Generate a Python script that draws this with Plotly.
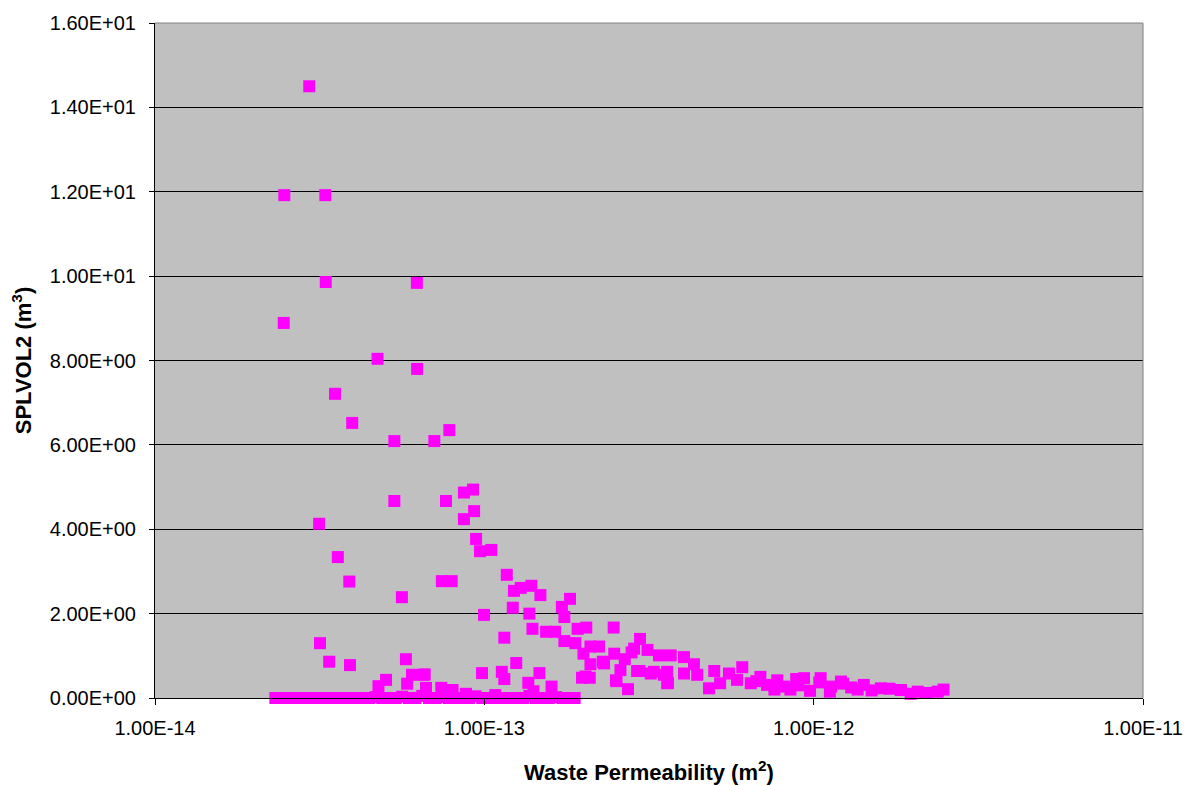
import plotly.graph_objects as go

# Waste permeability (m^2) and SPLVOL2 (m^3)
perm_main = [
    2.94e-14, 2.47e-14, 3.29e-14, 3.30e-14, 2.46e-14, 6.24e-14, 4.74e-14, 6.25e-14,
    3.52e-14, 3.97e-14, 5.33e-14, 7.05e-14, 7.83e-14, 5.33e-14, 7.65e-14, 8.67e-14,
    9.24e-14, 9.31e-14, 8.67e-14, 3.15e-14, 9.44e-14, 9.70e-14, 1.05e-13, 3.59e-14,
    3.89e-14, 7.43e-14, 7.96e-14, 5.62e-14, 9.98e-14, 1.17e-13, 1.15e-13, 3.17e-14,
    5.78e-14, 3.38e-14, 3.91e-14, 9.84e-14, 1.13e-13, 6.03e-14, 6.53e-14, 5.03e-14,
    5.83e-14, 4.77e-14, 6.65e-14, 7.40e-14, 8.01e-14, 8.80e-14, 1.08e-13, 1.23e-13,
    1.29e-13, 1.39e-13, 1.48e-13, 1.22e-13, 1.37e-13, 1.82e-13, 1.72e-13, 1.75e-13,
    1.40e-13, 1.54e-13, 1.64e-13, 1.92e-13, 2.04e-13, 2.47e-13, 1.75e-13, 1.89e-13,
    2.00e-13, 2.10e-13, 2.23e-13, 2.97e-13, 2.85e-13, 3.13e-13, 3.39e-13, 3.68e-13,
    2.48e-13, 2.29e-13, 2.10e-13, 2.67e-13, 2.80e-13, 2.59e-13, 2.96e-13, 3.27e-13,
    3.59e-13, 2.09e-13, 1.98e-13, 2.51e-13, 2.73e-13, 3.61e-13, 1.25e-13, 1.15e-13,
    1.47e-13, 1.36e-13, 1.60e-13, 6.59e-14, 1.41e-13, 4.04e-13, 4.33e-13, 4.99e-13,
    6.07e-13, 5.53e-13, 6.89e-13, 7.75e-13, 8.85e-13, 1.04e-12, 1.23e-12, 9.75e-13,
    4.81e-13, 3.59e-13, 2.52e-13, 2.03e-13, 3.20e-13, 3.51e-13, 2.91e-13, 2.31e-13,
    4.04e-13, 4.43e-13, 5.85e-13, 6.44e-13, 7.22e-13, 8.12e-13, 1.13e-12, 9.35e-13,
    1.05e-12, 1.21e-12, 1.42e-12, 1.60e-12, 1.84e-12, 2.07e-12, 2.38e-12, 2.48e-12,
    1.97e-12, 1.36e-12, 1.12e-12, 8.50e-13, 5.20e-13, 6.70e-13, 7.60e-13, 9.00e-13,
    1.30e-12, 1.50e-12, 1.70e-12, 2.20e-12,
]
splvol_main = [
    14.50, 11.92, 11.92, 9.86, 8.89, 9.84, 8.04, 7.80,
    7.21, 6.52, 6.09, 6.09, 6.35, 4.67, 4.67, 4.87,
    4.94, 4.43, 4.24, 4.13, 3.77, 3.48, 3.51, 3.34,
    2.76, 2.77, 2.77, 2.39, 1.97, 2.92, 1.43, 1.30,
    0.92, 0.86, 0.78, 0.59, 0.62, 0.55, 0.55, 0.43,
    0.34, 0.28, 0.24, 0.24, 0.19, 0.10, 0.07, 2.54,
    2.61, 2.66, 2.44, 2.14, 2.00, 2.35, 2.16, 1.92,
    1.64, 1.57, 1.57, 1.64, 1.67, 1.67, 1.35, 1.30,
    1.05, 1.22, 1.22, 1.40, 1.17, 1.14, 1.01, 1.01,
    1.05, 0.86, 0.80, 0.92, 1.08, 0.66, 0.64, 0.62,
    0.62, 0.48, 0.48, 0.42, 0.21, 0.36, 0.83, 0.45,
    0.59, 0.36, 0.27, 0.56, 0.16, 0.97, 0.80, 0.64,
    0.73, 0.58, 0.50, 0.42, 0.45, 0.37, 0.34, 0.17,
    0.23, 0.35, 0.40, 0.51, 0.58, 0.55, 0.64, 0.82,
    0.58, 0.55, 0.43, 0.35, 0.31, 0.27, 0.27, 0.47,
    0.47, 0.39, 0.31, 0.23, 0.19, 0.15, 0.15, 0.20,
    0.10, 0.20, 0.15, 0.20, 0.35, 0.40, 0.20, 0.30,
    0.25, 0.18, 0.22, 0.12,
]

# Realizations with (near) zero spill volume
perm_zero = [
    2.32e-14, 2.43e-14, 2.55e-14, 2.67e-14, 2.80e-14, 2.93e-14, 3.07e-14, 3.22e-14,
    3.37e-14, 3.53e-14, 3.70e-14, 3.88e-14, 4.06e-14, 4.26e-14, 4.46e-14, 4.67e-14,
    4.90e-14, 5.13e-14, 5.38e-14, 5.63e-14, 5.90e-14, 6.18e-14, 6.48e-14, 6.79e-14,
    7.11e-14, 7.45e-14, 7.81e-14, 8.18e-14, 8.57e-14, 8.98e-14, 9.41e-14, 9.86e-14,
    1.03e-13, 1.08e-13, 1.13e-13, 1.19e-13, 1.25e-13, 1.31e-13, 1.37e-13, 1.43e-13,
    1.50e-13, 1.57e-13, 1.65e-13, 1.73e-13, 1.81e-13, 1.88e-13,
]
splvol_zero = [
    0.00, 0.00, 0.00, 0.00, 0.00, 0.00, 0.00, 0.00,
    0.00, 0.00, 0.00, 0.00, 0.00, 0.00, 0.00, 0.02,
    0.00, 0.00, 0.00, 0.03, 0.00, 0.00, 0.05, 0.00,
    0.00, 0.02, 0.00, 0.00, 0.00, 0.00, 0.04, 0.00,
    0.00, 0.00, 0.00, 0.00, 0.00, 0.00, 0.05, 0.00,
    0.00, 0.00, 0.02, 0.00, 0.00, 0.00,
]

x_tickvals = [1e-14, 1e-13, 1e-12, 1e-11]
x_ticktext = ["1.00E-14", "1.00E-13", "1.00E-12", "1.00E-11"]
y_tickvals = [0, 2, 4, 6, 8, 10, 12, 14, 16]
y_ticktext = ["0.00E+00", "2.00E+00", "4.00E+00", "6.00E+00", "8.00E+00",
              "1.00E+01", "1.20E+01", "1.40E+01", "1.60E+01"]

FONT = "Liberation Sans, Arial, sans-serif"

fig = go.Figure()
fig.add_trace(go.Scatter(
    x=perm_zero + perm_main, y=splvol_zero + splvol_main,
    mode="markers", cliponaxis=False,
    marker=dict(symbol="square", size=12, color="#FF00FF", line=dict(width=0)),
    showlegend=False,
))

# the page body adds an 8px offset, so the figure is 8px smaller each way
fig.update_layout(
    width=1184, height=777,
    margin=dict(l=147, r=49, t=15, b=87),
    paper_bgcolor="white", plot_bgcolor="#C0C0C0",
    font=dict(family=FONT, size=20, color="black"),
    xaxis=dict(
        type="log", range=[-14, -11], automargin=False,
        tickvals=x_tickvals, ticktext=x_ticktext,
        showgrid=False, zeroline=False,
        showline=True, linecolor="black", linewidth=1,
        ticks="outside", ticklen=6, tickcolor="black",
        ticklabelstandoff=6,
        tickfont=dict(size=20),
        title=dict(text="<b>Waste Permeability (m<sup>2</sup>)</b>",
                   font=dict(size=22), standoff=26),
    ),
    yaxis=dict(
        range=[0, 16], automargin=False,
        tickvals=y_tickvals, ticktext=y_ticktext,
        showgrid=True, gridcolor="black", gridwidth=1,
        zeroline=False,
        showline=True, linecolor="black", linewidth=1,
        ticks="outside", ticklen=5, tickcolor="black",
        ticklabelstandoff=9,
        tickfont=dict(size=20),
        title=dict(text="<b>SPLVOL2 (m<sup>3</sup>)</b>",
                   font=dict(size=22), standoff=18),
    ),
    shapes=[
        dict(type="line", xref="paper", yref="paper", x0=0, x1=1, y0=1, y1=1,
             line=dict(color="#808080", width=1)),
        dict(type="line", xref="paper", yref="paper", x0=1, x1=1, y0=0, y1=1,
             line=dict(color="#808080", width=1)),
    ],
)

fig.write_html("out.html")
